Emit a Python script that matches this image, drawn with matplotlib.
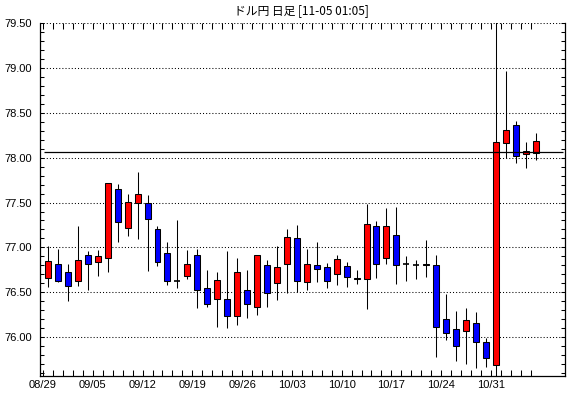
import matplotlib
matplotlib.use('Agg')
import matplotlib.pyplot as plt
from matplotlib.ticker import MultipleLocator, FixedLocator, FixedFormatter, NullFormatter

dates = ["08/29", "08/30", "08/31", "09/01", "09/02",
         "09/05", "09/06", "09/07", "09/08", "09/09",
         "09/12", "09/13", "09/14", "09/15", "09/16",
         "09/19", "09/20", "09/21", "09/22", "09/23",
         "09/26", "09/27", "09/28", "09/29", "09/30",
         "10/03", "10/04", "10/05", "10/06", "10/07",
         "10/10", "10/11", "10/12", "10/13", "10/14",
         "10/17", "10/18", "10/19", "10/20", "10/21",
         "10/24", "10/25", "10/26", "10/27", "10/28",
         "10/31", "11/01", "11/02", "11/03", "11/04"]

opens = [76.66, 76.82, 76.72, 76.63, 76.91,
         76.84, 76.88, 77.65, 77.22, 77.49,
         77.49, 77.21, 76.94, 76.62, 76.68,
         76.92, 76.55, 76.43, 76.43, 76.23,
         76.53, 76.34, 76.80, 76.60, 76.82,
         77.11, 76.61, 76.80, 76.78, 76.70,
         76.79, 76.66, 76.65, 77.24, 76.88,
         77.14, 76.82, 76.80, 76.80, 76.80,
         76.20, 76.09, 76.07, 76.16, 75.94,
         75.69, 78.16, 78.36, 78.04, 78.05]

highs = [77.01, 76.98, 76.82, 77.24, 76.96,
         76.97, 77.72, 77.71, 77.60, 77.84,
         77.58, 77.24, 77.06, 77.31, 76.97,
         76.98, 76.75, 76.72, 76.96, 76.88,
         76.75, 76.92, 76.86, 77.01, 77.20,
         77.25, 76.98, 77.06, 76.83, 76.91,
         76.84, 76.75, 77.48, 77.29, 77.44,
         77.45, 76.90, 76.86, 77.08, 76.91,
         76.48, 76.29, 76.32, 76.28, 75.99,
         79.52, 78.97, 78.41, 78.17, 78.27]

lows = [76.56, 76.61, 76.40, 76.57, 76.52,
        76.68, 76.72, 77.06, 77.13, 77.09,
        76.74, 76.79, 76.58, 76.55, 76.65,
        76.32, 76.34, 76.11, 76.10, 76.14,
        76.21, 76.25, 76.33, 76.41, 76.49,
        76.50, 76.52, 76.61, 76.55, 76.58,
        76.56, 76.59, 76.31, 76.66, 76.82,
        76.59, 76.62, 76.65, 76.67, 75.78,
        75.97, 75.73, 75.70, 75.65, 75.67,
        75.56, 78.00, 77.94, 77.88, 77.97]

closes = [76.85, 76.63, 76.57, 76.86, 76.81,
          76.90, 77.72, 77.28, 77.51, 77.60,
          77.32, 76.84, 76.62, 76.62, 76.81,
          76.53, 76.37, 76.64, 76.24, 76.72,
          76.37, 76.91, 76.49, 76.78, 77.12,
          76.62, 76.82, 76.76, 76.62, 76.87,
          76.67, 76.65, 77.26, 76.81, 77.24,
          76.80, 76.82, 76.80, 76.82, 76.11,
          76.04, 75.90, 76.19, 75.94, 75.77,
          78.17, 78.31, 78.02, 78.07, 78.19]

tick_labels = ["08/29", "09/05", "09/12", "09/19", "09/26",
               "10/03", "10/10", "10/17", "10/24", "10/31"]
current_price = 78.06
title = "ドル円 日足 [11-05 01:05]"

UP = "#ff0000"
DOWN = "#0000ff"

W, H = 570, 398
fig = plt.figure(figsize=(W / 100, H / 100), dpi=100)
ax = fig.add_axes([40 / W, 1 - 376 / H, 525 / W, (376 - 22.7) / H])

lw = 0.75
for i, (o, h, l, c) in enumerate(zip(opens, highs, lows, closes)):
    ax.vlines(i, l, h, color="black", lw=lw, zorder=3)
    if abs(c - o) < 0.005:
        ax.hlines(o, i - 0.3, i + 0.3, color="black", lw=1.2, zorder=4)
    else:
        ax.bar(i, abs(c - o), bottom=min(o, c), width=0.6,
               color=UP if c > o else DOWN, edgecolor="black",
               linewidth=lw, zorder=4)

ax.hlines(current_price, -0.4, 51.7, color="black", lw=0.9, zorder=5)

ax.set_xlim(-0.804, 51.94)
ax.set_ylim(75.566, 79.505)

day_ticks = [i - 0.5 for i in range(len(dates))]
label_pos = [dates.index(t) - 0.5 for t in tick_labels]
ax.xaxis.set_major_locator(FixedLocator(label_pos))
ax.xaxis.set_major_formatter(FixedFormatter(tick_labels))
ax.xaxis.set_minor_locator(FixedLocator(day_ticks))
ax.yaxis.set_major_locator(MultipleLocator(0.5))
ax.yaxis.set_minor_locator(MultipleLocator(0.1))
ax.yaxis.set_major_formatter(matplotlib.ticker.FormatStrFormatter("%.2f"))

ax.tick_params(axis="x", which="both", direction="in", length=4, width=0.75,
               top=True, bottom=True, pad=3, labelsize=8)
ax.tick_params(axis="y", which="both", direction="in", length=3, width=0.75,
               left=True, right=True, pad=6, labelsize=8)
for lab in ax.get_xticklabels() + ax.get_yticklabels():
    lab.set_fontfamily("Liberation Sans")

ax.grid(axis="y", which="major", color="black", linestyle=(0, (1, 2)), lw=0.75)
ax.set_axisbelow(True)

ax.spines["top"].set_visible(False)
for s in ("left", "right", "bottom"):
    ax.spines[s].set_linewidth(0.9)
    ax.spines[s].set_color("black")

fig.text(301.5 / W, 1 - 11 / H, title, ha="center", va="center", fontsize=8.5,
         family=["Noto Sans CJK JP", "DejaVu Sans"])

fig.savefig("out.png", dpi=100)
